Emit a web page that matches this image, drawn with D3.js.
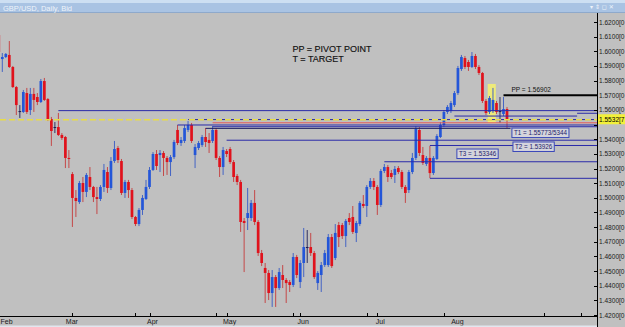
<!DOCTYPE html>
<html>
<head>
<meta charset="utf-8">
<script src="https://cdn.jsdelivr.net/npm/d3@7/dist/d3.min.js"></script>
<style>
  html, body { margin: 0; padding: 0; background: #c0c0c0; overflow: hidden; }
  svg { display: block; font-family: 'Liberation Sans', Arial, sans-serif; }
</style>
</head>
<body>
<svg id="chart" width="625" height="327"></svg>
<script>
// ─── Daten: GBP/USD Daily, Feb – Aug ─────────────────────────────────────────

const opens = [
  1.6111, 1.5947, 1.5961, 1.5975, 1.5893, 1.5756, 1.5592, 1.5586, 1.5715, 1.5599,
  1.5709, 1.5688, 1.5654, 1.5797, 1.5674, 1.5538, 1.5483, 1.5483, 1.5429, 1.5415,
  1.5272, 1.5162, 1.4999, 1.4971, 1.5101, 1.5040, 1.5142, 1.5074, 1.5005, 1.4992,
  1.5074, 1.5176, 1.5067, 1.5251, 1.5340, 1.5251, 1.5033, 1.5108, 1.5053, 1.4869,
  1.4821, 1.4917, 1.4992, 1.5074, 1.5190, 1.5299, 1.5292, 1.5306, 1.5272, 1.5244,
  1.5278, 1.5463, 1.5374, 1.5388, 1.5463, 1.5497, 1.5292, 1.5340, 1.5360, 1.5415,
  1.5395, 1.5388, 1.5463, 1.5272, 1.5210, 1.5319, 1.5333, 1.5244, 1.5149, 1.5108,
  1.4842, 1.4862, 1.4862, 1.4965, 1.4835, 1.4623, 1.4521, 1.4487, 1.4350, 1.4459,
  1.4384, 1.4473, 1.4439, 1.4425, 1.4405, 1.4596, 1.4425, 1.4555, 1.4664, 1.4664,
  1.4623, 1.4418, 1.4473, 1.4541, 1.4541, 1.4732, 1.4589, 1.4814, 1.4814, 1.4739,
  1.4862, 1.4869, 1.4760, 1.4821, 1.4958, 1.4944, 1.5074, 1.5115, 1.5074, 1.4951,
  1.5183, 1.5210, 1.5169, 1.5156, 1.5203, 1.5176, 1.5074, 1.5053, 1.5176, 1.5272,
  1.5463, 1.5292, 1.5231, 1.5272, 1.5169, 1.5265, 1.5415, 1.5497, 1.5586, 1.5592,
  1.5633, 1.5715, 1.5879, 1.5954, 1.5927, 1.5893, 1.5968, 1.5893, 1.5852, 1.5661,
  1.5586, 1.5592, 1.5647, 1.5592, 1.5572, 1.5606
];

const highs = [
  1.6145, 1.5988, 1.5988, 1.6070, 1.5900, 1.5763, 1.5633, 1.5736, 1.5750, 1.5750,
  1.5750, 1.5715, 1.5811, 1.5818, 1.5681, 1.5552, 1.5517, 1.5579, 1.5442, 1.5422,
  1.5326, 1.5176, 1.5053, 1.5115, 1.5142, 1.5169, 1.5210, 1.5081, 1.5074, 1.5087,
  1.5231, 1.5210, 1.5278, 1.5388, 1.5354, 1.5265, 1.5122, 1.5122, 1.5067, 1.4876,
  1.4930, 1.5019, 1.5122, 1.5210, 1.5312, 1.5326, 1.5326, 1.5319, 1.5285, 1.5292,
  1.5395, 1.5497, 1.5415, 1.5497, 1.5524, 1.5511, 1.5367, 1.5388, 1.5429, 1.5476,
  1.5442, 1.5490, 1.5476, 1.5285, 1.5347, 1.5333, 1.5347, 1.5258, 1.5162, 1.5122,
  1.4862, 1.5067, 1.4985, 1.5053, 1.4848, 1.4644, 1.4555, 1.4507, 1.4507, 1.4473,
  1.4521, 1.4541, 1.4452, 1.4439, 1.4623, 1.4610, 1.4575, 1.4794, 1.4780, 1.4760,
  1.4637, 1.4500, 1.4562, 1.4644, 1.4753, 1.4753, 1.4821, 1.4835, 1.4828, 1.4855,
  1.4896, 1.4944, 1.4842, 1.4978, 1.5019, 1.5087, 1.5135, 1.5135, 1.5087, 1.5197,
  1.5231, 1.5224, 1.5190, 1.5217, 1.5217, 1.5190, 1.5087, 1.5190, 1.5306, 1.5490,
  1.5483, 1.5347, 1.5285, 1.5354, 1.5285, 1.5435, 1.5517, 1.5599, 1.5633, 1.5661,
  1.5729, 1.5900, 1.5975, 1.5968, 1.5941, 1.5995, 1.5982, 1.5906, 1.5859, 1.5674,
  1.5695, 1.5750, 1.5661, 1.5688, 1.5688, 1.5620
];

const lows = [
  1.5975, 1.5859, 1.5954, 1.5886, 1.5750, 1.5565, 1.5545, 1.5579, 1.5572, 1.5565,
  1.5586, 1.5633, 1.5647, 1.5661, 1.5524, 1.5354, 1.5442, 1.5422, 1.5395, 1.5203,
  1.5203, 1.4801, 1.4869, 1.4958, 1.4971, 1.5005, 1.5053, 1.4971, 1.4889, 1.4978,
  1.5040, 1.5033, 1.5053, 1.5238, 1.5238, 1.5019, 1.4999, 1.4999, 1.4855, 1.4807,
  1.4807, 1.4883, 1.4985, 1.5060, 1.5183, 1.5190, 1.5176, 1.5149, 1.5156, 1.5149,
  1.5265, 1.5360, 1.5354, 1.5374, 1.5449, 1.5374, 1.5203, 1.5326, 1.5347, 1.5347,
  1.5306, 1.5374, 1.5258, 1.5142, 1.5156, 1.5278, 1.5231, 1.5108, 1.5087, 1.4767,
  1.4493, 1.4780, 1.4842, 1.4814, 1.4603, 1.4534, 1.4282, 1.4302, 1.4255, 1.4255,
  1.4371, 1.4384, 1.4282, 1.4357, 1.4391, 1.4452, 1.4384, 1.4459, 1.4555, 1.4603,
  1.4446, 1.4371, 1.4357, 1.4528, 1.4528, 1.4521, 1.4575, 1.4664, 1.4719, 1.4664,
  1.4814, 1.4753, 1.4698, 1.4807, 1.4930, 1.4869, 1.5060, 1.5053, 1.4883, 1.4937,
  1.5169, 1.5108, 1.5128, 1.5101, 1.5162, 1.5060, 1.4965, 1.5033, 1.5162, 1.5258,
  1.5285, 1.5224, 1.5217, 1.5135, 1.5156, 1.5258, 1.5408, 1.5483, 1.5572, 1.5579,
  1.5620, 1.5702, 1.5866, 1.5879, 1.5866, 1.5886, 1.5879, 1.5838, 1.5647, 1.5565,
  1.5572, 1.5579, 1.5572, 1.5511, 1.5558, 1.5476
];

const closes = [
  1.5995, 1.5961, 1.5982, 1.5893, 1.5756, 1.5633, 1.5590, 1.5722, 1.5586, 1.5709,
  1.5668, 1.5654, 1.5797, 1.5668, 1.5531, 1.5456, 1.5481, 1.5429, 1.5408, 1.5272,
  1.5265, 1.4999, 1.4978, 1.5101, 1.5040, 1.5156, 1.5074, 1.5005, 1.4992, 1.5074,
  1.5190, 1.5067, 1.5251, 1.5333, 1.5258, 1.5033, 1.5108, 1.5053, 1.4869, 1.4821,
  1.4917, 1.4999, 1.5074, 1.5190, 1.5299, 1.5217, 1.5306, 1.5272, 1.5244, 1.5278,
  1.5381, 1.5374, 1.5395, 1.5476, 1.5497, 1.5388, 1.5347, 1.5374, 1.5415, 1.5381,
  1.5374, 1.5463, 1.5272, 1.5210, 1.5326, 1.5299, 1.5244, 1.5142, 1.5108, 1.4835,
  1.4828, 1.4896, 1.4965, 1.4835, 1.4623, 1.4555, 1.4487, 1.4350, 1.4459, 1.4384,
  1.4493, 1.4439, 1.4418, 1.4405, 1.4596, 1.4473, 1.4555, 1.4664, 1.4660, 1.4623,
  1.4459, 1.4487, 1.4541, 1.4623, 1.4732, 1.4534, 1.4760, 1.4732, 1.4739, 1.4842,
  1.4835, 1.4767, 1.4828, 1.4965, 1.4944, 1.5074, 1.5115, 1.5074, 1.4951, 1.5183,
  1.5210, 1.5142, 1.5142, 1.5197, 1.5176, 1.5074, 1.5033, 1.5176, 1.5272, 1.5470,
  1.5306, 1.5238, 1.5272, 1.5169, 1.5272, 1.5422, 1.5497, 1.5586, 1.5620, 1.5647,
  1.5715, 1.5886, 1.5961, 1.5893, 1.5893, 1.5968, 1.5893, 1.5852, 1.5661, 1.5579,
  1.5681, 1.5668, 1.5586, 1.5590, 1.5606, 1.5532
];

// Monatsbeschriftung (Index der ersten Kerze im Monat)
const monthLabels = ['Feb', 'Mar', 'Apr', 'May', 'Jun', 'Jul', 'Aug'];
const monthStarts = [0, 20, 43, 65, 86, 108, 130];
const timeTicks   = [21, 39, 43, 62, 65, 84, 86, 105, 108, 127, 155.5, 166];

// Preisachse
const priceTicks = [1.62, 1.61, 1.60, 1.59, 1.58, 1.57, 1.56, 1.55, 1.54, 1.53, 1.52,
                    1.51, 1.50, 1.49, 1.48, 1.47, 1.46, 1.45, 1.44, 1.43, 1.42];
const lastPrice      = 1.55327;
const lastPriceLabel = '1.5532[7';

// Horizontale Linien (Preis, Start-Kerze, End-Kerze, Art)
const levelPrices = [1.5595, 1.5534, 1.5512, 1.5497, 1.5485, 1.5474, 1.5558, 1.5577, 1.5393, 1.5357, 1.5246, 1.5133];
const levelFrom   = [17,     54,     61,     51,     61,     59,     130,    165,    65,     123,    110,    123];
const levelTo     = [null,   null,   null,   null,   null,   146,    165,    null,   null,   null,   null,   null];
const levelKind   = ['line', 'line', 'red',  'line', 'line', 'target','line', 'line', 'line', 'line', 'line', 'line'];

// Pivot
const pivotPrice = 1.5700;
const pivotFrom  = 144;
const pivotText  = 'PP = 1.56902';

// Ziele (Text, Kerzen-Index links, Preis oben)
const targetTexts  = ['T1 = 1.55773/5344', 'T2 = 1.53926', 'T3 = 1.53346'];
const targetIdx    = [146.4, 146.7, 130.7];
const targetPrices = [1.5476, 1.5381, 1.5333];

// Markierung (gelbes Rechteck)
const markFrom = 139.5, markTo = 141.8, markHigh = 1.5777, markLow = 1.5511;

const legendLines = ['PP = PIVOT POINT', 'T = TARGET'];
const titleText   = 'GBP/USD, Daily, Bid';

// ─── Aufbau ──────────────────────────────────────────────────────────────────

const W = 625, H = 327;
const plot = { left: 0, right: 597, top: 13, bottom: 316 };

const candles = opens.map((o, i) => ({
  i, o, h: highs[i], l: lows[i], c: closes[i],
}));

const x = d3.scaleLinear().domain([0, 145]).range([-1.2, 507]);
const y = d3.scaleLinear().domain([1.42, 1.62]).range([315, 22]);
const bodyW = 2.7;

const svg = d3.select('#chart');

svg.append('defs').append('clipPath')
    .attr('id', 'plotclip')
  .append('rect')
    .attr('x', plot.left).attr('y', plot.top)
    .attr('width', plot.right - plot.left)
    .attr('height', plot.bottom - plot.top);

svg.append('rect')
  .attr('width', W).attr('height', H)
  .attr('fill', '#c0c0c0');

// Kopfzeile
svg.append('rect')
  .attr('x', 0).attr('y', 0).attr('width', W).attr('height', 13)
  .attr('fill', '#a9c3e3');
svg.append('rect')
  .attr('x', 0).attr('y', 0).attr('width', W).attr('height', 3)
  .attr('fill', '#cddff2');
svg.append('line')
  .attr('x1', 0).attr('x2', W).attr('y1', 12.5).attr('y2', 12.5)
  .attr('stroke', '#8ea9cb');
svg.append('text')
  .attr('x', 3).attr('y', 10.5)
  .attr('font-size', 7.5)
  .attr('fill', '#eef3fa')
  .text(titleText);
svg.append('text')
  .attr('x', 590).attr('y', 9)
  .attr('font-size', 6)
  .attr('font-family', 'DejaVu Sans')
  .attr('fill', '#eef3fa')
  .text('▾ ⇕ ◻ ✕');

const g = svg.append('g').attr('clip-path', 'url(#plotclip)');

// gelbe Markierung
g.append('rect')
  .attr('x', x(markFrom)).attr('y', y(markHigh))
  .attr('width', x(markTo) - x(markFrom))
  .attr('height', y(markLow) - y(markHigh))
  .attr('fill', '#eeea7a');

// Kerzen
const isDoji = d => Math.abs(d.c - d.o) < 0.0005;
const bodyColor = d => isDoji(d) ? '#1c1c50' : (d.c >= d.o ? '#2456d8' : '#e0121c');
const wickColor = d => isDoji(d) ? '#303060' : (d.c >= d.o ? '#4464c4' : '#c44848');

g.selectAll('line.wick')
  .data(candles)
  .enter()
  .append('line')
    .attr('class', 'wick')
    .attr('x1', d => x(d.i)).attr('x2', d => x(d.i))
    .attr('y1', d => y(d.h)).attr('y2', d => y(d.l))
    .attr('stroke', wickColor)
    .attr('stroke-width', 1);

g.selectAll('rect.body')
  .data(candles)
  .enter()
  .append('rect')
    .attr('class', 'body')
    .attr('x', d => x(d.i) - bodyW / 2)
    .attr('y', d => y(Math.max(d.o, d.c)))
    .attr('width', bodyW)
    .attr('height', d => Math.max(1, Math.abs(y(d.o) - y(d.c))))
    .attr('fill', bodyColor);

// Linien
const levels = levelPrices.map((p, k) => ({
  p, from: levelFrom[k], to: levelTo[k], kind: levelKind[k],
}));
const levelStroke = { line: '#2a2aa8', red: '#e45a5a', target: '#1a1a60' };

g.selectAll('line.level')
  .data(levels)
  .enter()
  .append('line')
    .attr('class', 'level')
    .attr('x1', d => x(d.from))
    .attr('x2', d => d.to === null ? plot.right : x(d.to))
    .attr('y1', d => y(d.p)).attr('y2', d => y(d.p))
    .attr('stroke', d => levelStroke[d.kind])
    .attr('stroke-width', 1);

// aktueller Kurs
g.append('line')
  .attr('x1', plot.left).attr('x2', plot.right)
  .attr('y1', y(lastPrice)).attr('y2', y(lastPrice))
  .attr('stroke', '#e8dc48')
  .attr('stroke-width', 1.3)
  .attr('stroke-dasharray', '6,3');

// Pivot
g.append('line')
  .attr('x1', x(pivotFrom)).attr('x2', plot.right)
  .attr('y1', y(pivotPrice)).attr('y2', y(pivotPrice))
  .attr('stroke', '#000')
  .attr('stroke-width', 2);
g.append('text')
  .attr('x', x(pivotFrom) + 8).attr('y', y(pivotPrice) - 3)
  .attr('font-size', 6.5)
  .attr('fill', '#111')
  .text(pivotText);

// Ziel-Boxen
targetTexts.forEach((t, k) => {
  const bx = x(targetIdx[k]);
  const by = y(targetPrices[k]);
  const box = g.append('rect')
    .attr('x', bx).attr('y', by)
    .attr('height', 9.5)
    .attr('fill', '#d4d4dc')
    .attr('stroke', '#3a48b8')
    .attr('stroke-width', 1);
  const txt = g.append('text')
    .attr('x', bx + 2).attr('y', by + 7.2)
    .attr('font-size', 6.3)
    .attr('fill', '#1c1c6a')
    .text(t);
  box.attr('width', txt.node().getComputedTextLength() + 4);
});

// Legende
g.selectAll('text.legend')
  .data(legendLines)
  .enter()
  .append('text')
    .attr('class', 'legend')
    .attr('x', x(83.8))
    .attr('y', (d, k) => y(1.5995) + k * 10)
    .attr('font-size', 9)
    .attr('fill', '#111')
    .attr('stroke', '#111')
    .attr('stroke-width', 0.15)
    .text(d => d);

// ─── Achsen ──────────────────────────────────────────────────────────────────

svg.append('line')
  .attr('x1', plot.right + 0.5).attr('x2', plot.right + 0.5)
  .attr('y1', plot.top).attr('y2', H)
  .attr('stroke', '#000');
svg.append('line')
  .attr('x1', 0).attr('x2', plot.right + 0.5)
  .attr('y1', plot.bottom + 0.5).attr('y2', plot.bottom + 0.5)
  .attr('stroke', '#000');

const shownTicks = priceTicks.filter(p => Math.abs(y(p) - y(lastPrice)) > 8);
const labelRoom  = W - plot.right - 2.5;

// Beschriftung so klein halten, dass sie rechts nicht abgeschnitten wird
const fitText = sel => sel.each(function () {
  const len = this.getComputedTextLength();
  if (len > labelRoom) d3.select(this).attr('textLength', labelRoom).attr('lengthAdjust', 'spacingAndGlyphs');
});

svg.selectAll('line.ytick')
  .data(priceTicks)
  .enter()
  .append('line')
    .attr('class', 'ytick')
    .attr('x1', plot.right - 3).attr('x2', plot.right)
    .attr('y1', d => Math.round(y(d)) + 0.5).attr('y2', d => Math.round(y(d)) + 0.5)
    .attr('stroke', '#000');

svg.selectAll('text.ylab')
  .data(shownTicks)
  .enter()
  .append('text')
    .attr('class', 'ylab')
    .attr('x', plot.right + 2)
    .attr('y', d => y(d) + 2.5)
    .attr('font-size', 7)
    .attr('fill', '#1a1a1a')
    .text(d => d.toFixed(4) + '[0')
    .call(fitText);

svg.append('rect')
  .attr('x', plot.right + 1).attr('y', y(lastPrice) - 5.5)
  .attr('width', W - plot.right).attr('height', 10)
  .attr('fill', '#f2f03a');
svg.append('text')
  .attr('x', plot.right + 2).attr('y', y(lastPrice) + 2.5)
  .attr('font-size', 7)
  .attr('fill', '#000')
  .text(lastPriceLabel)
  .call(fitText);

svg.selectAll('line.xtick')
  .data(timeTicks)
  .enter()
  .append('line')
    .attr('class', 'xtick')
    .attr('x1', d => Math.round(x(d)) + 0.5).attr('x2', d => Math.round(x(d)) + 0.5)
    .attr('y1', plot.bottom - 3).attr('y2', plot.bottom)
    .attr('stroke', '#000');

// Monatsnamen; der erste wird an den linken Rand geschoben statt abgeschnitten
svg.selectAll('text.xlab')
  .data(monthLabels)
  .enter()
  .append('text')
    .attr('class', 'xlab')
    .attr('x', (d, k) => x(monthStarts[k]) + 3)
    .attr('y', 323.5)
    .attr('text-anchor', 'middle')
    .attr('font-size', 7)
    .attr('fill', '#1a1a1a')
    .text(d => d)
    .each(function () {
      const half = this.getComputedTextLength() / 2;
      const cx = +this.getAttribute('x');
      if (cx - half < 0.5) d3.select(this).attr('x', half + 0.5);
    });

svg.append('rect')
  .attr('x', 0).attr('y', 325.5).attr('width', plot.right).attr('height', 2)
  .attr('fill', '#e2e6ee');
</script>
</body>
</html>
